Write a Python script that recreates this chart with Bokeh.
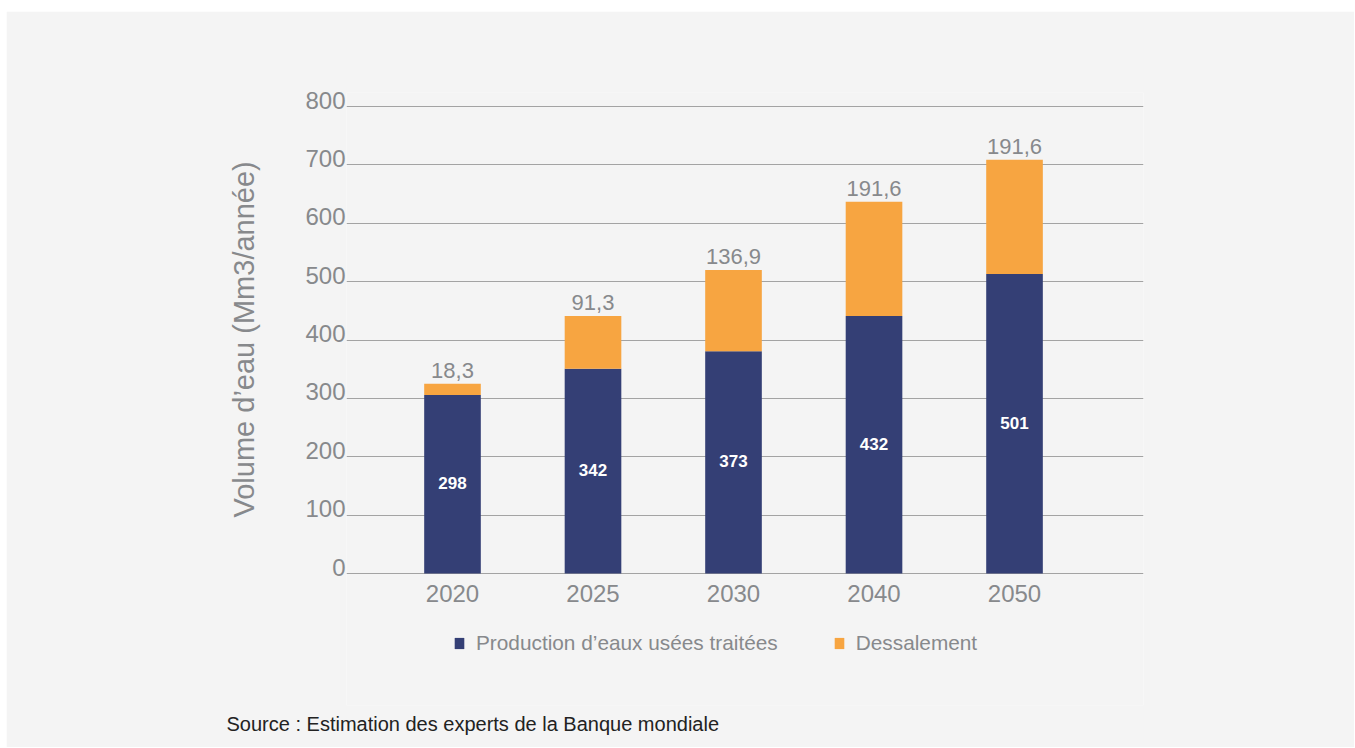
import math
from bokeh.plotting import figure
from bokeh.models import (ColumnDataSource, LabelSet, Legend, LegendItem,
                          FixedTicker, Range1d, Title)
from bokeh.core.properties import value
from bokeh.embed import file_html
from bokeh.resources import INLINE

# ---- data ----
years = ["2020", "2025", "2030", "2040", "2050"]
# bar heights as drawn in the picture (Mm3/année)
wastewater = [306, 351, 381, 441, 513]
desalination = [19, 90, 139, 196, 196]
# value labels printed on the chart
wastewater_labels = ["298", "342", "373", "432", "501"]
desalination_labels = ["18,3", "91,3", "136,9", "191,6", "191,6"]
y_ticks = [0, 100, 200, 300, 400, 500, 600, 700, 800]
series_names = ["Production d\u2019eaux usées traitées", "Dessalement"]

BLUE = "#343f75"
ORANGE = "#f7a541"
GREY = "#87898c"
BG = "#f4f4f4"
FONT = "'Liberation Sans', Arial, sans-serif"

xs = list(range(len(years)))
totals = [a + b for a, b in zip(wastewater, desalination)]
mids = [a / 2 for a in wastewater]

src = ColumnDataSource(dict(
    x=xs, ww=wastewater, tot=totals, mid=mids, zero=[0] * len(xs),
    yr=years, wl=wastewater_labels, dl=desalination_labels,
))

x_start, x_end = -0.7544, 4.918
# frame: 655 px tall above a 42 px border; 0 sits 132 px above the frame bottom
y_start, y_end = -226.0, 824.0
p = figure(width=1348, height=736, output_backend="svg", toolbar_location=None,
           x_range=Range1d(x_start, x_end), y_range=Range1d(y_start, y_end),
           min_border_left=340, min_border_right=211,
           min_border_top=81, min_border_bottom=42,
           background_fill_color=BG, border_fill_color=BG,
           outline_line_color=None, margin=(11, 0, 0, 6),
           x_axis_type=None)

# grid
p.ygrid.ticker = FixedTicker(ticks=y_ticks)
p.ygrid.grid_line_color = "#a3a3a3"
p.ygrid.grid_line_width = 1.2

# bars
r_ww = p.vbar(x="x", width=0.403, bottom=0, top="ww", source=src,
              fill_color=BLUE, line_color=None)
r_de = p.vbar(x="x", width=0.403, bottom="ww", top="tot", source=src,
              fill_color=ORANGE, line_color=None)

# year labels under the bars
p.add_layout(LabelSet(x="x", y="zero", text="yr", source=src, y_offset=-28,
                      text_align="center", text_baseline="alphabetic",
                      text_font=value(FONT), text_font_size="24px",
                      text_color=GREY))

# y axis: labels sit just above their grid line
LIFT = 11
ya = p.yaxis[0]
ya.ticker = FixedTicker(ticks=[v + LIFT for v in y_ticks])
ya.major_label_overrides = {v + LIFT: str(v) for v in y_ticks}
ya.axis_line_color = None
ya.major_tick_line_color = None
ya.minor_tick_line_color = None
ya.major_tick_in = 0
ya.major_tick_out = 0
ya.major_label_standoff = 1
ya.major_label_text_font = FONT
ya.major_label_text_font_size = "24px"
ya.major_label_text_color = GREY

# y title
p.add_layout(Title(text="Volume d\u2019eau (Mm3/année)", align="left",
                   offset=188, standoff=86, text_font=FONT,
                   text_font_size="29px", text_font_style="normal",
                   text_color=GREY), "left")

# value labels
p.add_layout(LabelSet(x="x", y="mid", text="wl", source=src, y_offset=1,
                      text_align="center", text_baseline="middle",
                      text_font=value(FONT), text_font_size="17px",
                      text_font_style="bold", text_color="white"))
p.add_layout(LabelSet(x="x", y="tot", text="dl", source=src, y_offset=6,
                      text_align="center", text_baseline="alphabetic",
                      text_font=value(FONT), text_font_size="22px",
                      text_color=GREY))

# legend (inside the frame, below the axis)
legend = Legend(items=[LegendItem(label=series_names[0], renderers=[r_ww]),
                       LegendItem(label=series_names[1], renderers=[r_de])],
                orientation="horizontal", location=(107, 50),
                glyph_width=12, glyph_height=14, label_standoff=11, spacing=55,
                padding=0, margin=0, border_line_color=None,
                background_fill_alpha=0, label_text_font=FONT,
                label_text_font_size="20.8px", label_text_color=GREY)
p.add_layout(legend, "center")

# source note
p.add_layout(Title(text="Source : Estimation des experts de la Banque mondiale",
                   align="left", offset=-120, standoff=10,
                   text_font=FONT, text_font_size="20px",
                   text_font_style="normal", text_color="#222222"), "below")

open("out.html", "w").write(file_html(p, INLINE))
